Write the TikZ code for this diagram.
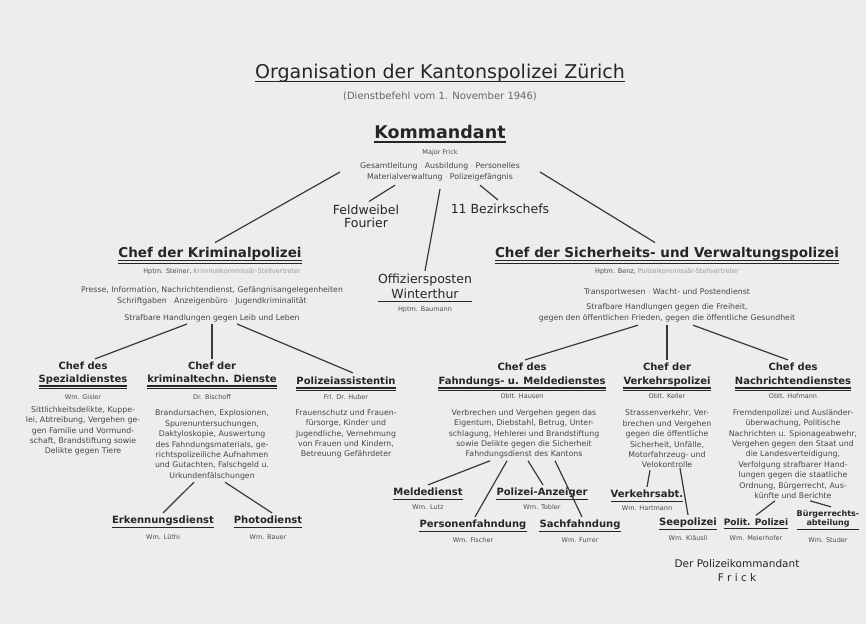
\documentclass[tikz,border=0pt]{standalone}
\usepackage{fontspec}
\setmainfont{DejaVu Sans}
\usetikzlibrary{positioning}
\definecolor{paper}{HTML}{EDEDED}
\definecolor{ink}{HTML}{262626}
\definecolor{pale}{HTML}{9A9A9A}

\begin{document}
\begin{tikzpicture}[
  x=1pt,y=-1pt,
  every node/.style={inner sep=0pt,text=ink},
  ttl/.style={font=\fontsize{19}{21}\selectfont,text depth=.22em},
  boss/.style={font=\fontsize{17.5}{20}\selectfont\bfseries,text depth=.22em},
  chief/.style={font=\fontsize{13.5}{15}\selectfont\bfseries,text depth=.22em},
  head/.style={font=\fontsize{10}{11.5}\selectfont\bfseries,text depth=.22em},
  unit/.style={font=\fontsize{12.5}{13}\selectfont,align=center},
  who/.style={font=\fontsize{6.5}{8}\selectfont,text=black!70},
  txt/.style={font=\fontsize{7.8}{10.4}\selectfont,align=center,text=black!72},
  wire/.style={draw=black!78,line width=1.2pt},
  ul/.style={draw=ink,line width=1.4pt},
  ulthin/.style={draw=ink,line width=.5pt}]

\fill[paper] (0,0) rectangle (866,624);
\useasboundingbox (0,0) rectangle (866,624);

% title
\node[ttl] (title) at (440,72) {Organisation der Kantonspolizei Zürich};
\node[who,font=\fontsize{10}{11}\selectfont,text=black!60] (date) at (440,96) {(Dienstbefehl vom 1. November 1946)};

% commander
\node[boss] (kdt) at (440,133) {Kommandant};
\node[who] (kdtname) at (440,153) {Major Frick};
\node[txt] (kdttxt) at (440,172) {Gesamtleitung $\cdot$ Ausbildung $\cdot$ Personelles\\Materialverwaltung $\cdot$ Polizeigefängnis};
\node[unit] (fw) at (366,216) {Feldweibel\\Fourier};
\node[unit] (bez) at (500,209) {11 Bezirkschefs};
\node[unit] (ofp) at (425,280) {Offiziersposten};
\node[unit] (winti) at (425,294) {Winterthur};
\node[who] (wintiname) at (425,310) {Hptm. Baumann};

% Kriminalpolizei
\node[chief] (kripo) at (210,253) {Chef der Kriminalpolizei};
\node[who] (kriponame) at (222,272) {Hptm. Steiner, \textcolor{pale}{Kriminalkommissär-Stellvertreter}};
\node[txt] (kriptxt) at (212,296) {Presse, Information, Nachrichtendienst, Gefängnisangelegenheiten\\Schriftgaben $\cdot$ Anzeigenbüro $\cdot$ Jugendkriminalität};
\node[txt] (kriptxt2) at (212,318) {Strafbare Handlungen gegen Leib und Leben};

\node[head] (spzA) at (83,367) {Chef des};
\node[head] (spz) at (83,380) {Spezialdienstes};
\node[who] (spzname) at (83,397) {Wm. Gisler};
\node[txt] (spztxt) at (83,431) {Sittlichkeitsdelikte, Kuppe-\\lei, Abtreibung, Vergehen ge-\\gen Familie und Vormund-\\schaft, Brandstiftung sowie\\Delikte gegen Tiere};

\node[head] (ktA) at (212,367) {Chef der};
\node[head] (kt) at (212,380) {kriminaltechn. Dienste};
\node[who] (ktname) at (212,397) {Dr. Bischoff};
\node[txt] (kttxt) at (212,445) {Brandursachen, Explosionen,\\Spurenuntersuchungen,\\Daktyloskopie, Auswertung\\des Fahndungsmaterials, ge-\\richtspolizeiliche Aufnahmen\\und Gutachten, Falschgeld u.\\Urkundenfälschungen};

\node[head] (pa) at (346,382) {Polizeiassistentin};
\node[who] (paname) at (346,397) {Frl. Dr. Huber};
\node[txt] (patxt) at (346,434) {Frauenschutz und Frauen-\\fürsorge, Kinder und\\Jugendliche, Vernehmung\\von Frauen und Kindern,\\Betreuung Gefährdeter};

\node[head] (ed) at (163,521) {Erkennungsdienst};
\node[who] (edname) at (163,537) {Wm. Lüthi};
\node[head] (ph) at (268,521) {Photodienst};
\node[who] (phname) at (268,537) {Wm. Bauer};

% Sicherheits- und Verwaltungspolizei
\node[chief] (sich) at (667,253) {Chef der Sicherheits- und Verwaltungspolizei};
\node[who] (sichname) at (667,272) {Hptm. Benz, \textcolor{pale}{Polizeikommissär-Stellvertreter}};
\node[txt] (sichtxt) at (667,292) {Transportwesen $\cdot$ Wacht- und Postendienst};
\node[txt] (sichtxt2) at (667,313) {Strafbare Handlungen gegen die Freiheit,\\gegen den öffentlichen Frieden, gegen die öffentliche Gesundheit};

\node[head] (fdA) at (522,368) {Chef des};
\node[head] (fd) at (522,382) {Fahndungs- u. Meldedienstes};
\node[who] (fdname) at (522,396) {Oblt. Hausen};
\node[txt] (fdtxt) at (524,434) {Verbrechen und Vergehen gegen das\\Eigentum, Diebstahl, Betrug, Unter-\\schlagung, Hehlerei und Brandstiftung\\sowie Delikte gegen die Sicherheit\\Fahndungsdienst des Kantons};

\node[head] (vkA) at (667,368) {Chef der};
\node[head] (vk) at (667,382) {Verkehrspolizei};
\node[who] (vkname) at (667,396) {Oblt. Keller};
\node[txt] (vktxt) at (667,439) {Strassenverkehr, Ver-\\brechen und Vergehen\\gegen die öffentliche\\Sicherheit, Unfälle,\\Motorfahrzeug- und\\Velokontrolle};

\node[head] (nrA) at (793,368) {Chef des};
\node[head] (nr) at (793,382) {Nachrichtendienstes};
\node[who] (nrname) at (793,396) {Oblt. Hofmann};
\node[txt] (nrtxt) at (793,454) {Fremdenpolizei und Ausländer-\\überwachung, Politische\\Nachrichten u. Spionageabwehr,\\Vergehen gegen den Staat und\\die Landesverteidigung,\\Verfolgung strafbarer Hand-\\lungen gegen die staatliche\\Ordnung, Bürgerrecht, Aus-\\künfte und Berichte};

\node[head] (md) at (428,493) {Meldedienst};
\node[who] (mdname) at (428,507) {Wm. Lutz};
\node[head] (pf) at (473,525) {Personenfahndung};
\node[who] (pfname) at (473,540) {Wm. Fischer};
\node[head] (pz) at (542,493) {Polizei-Anzeiger};
\node[who] (pzname) at (542,507) {Wm. Tobler};
\node[head] (sf) at (580,525) {Sachfahndung};
\node[who] (sfname) at (580,540) {Wm. Furrer};

\node[head] (va) at (647,495) {Verkehrsabt.};
\node[who] (vaname) at (647,508) {Wm. Hartmann};
\node[head] (sp) at (688,523) {Seepolizei};
\node[who] (spname) at (688,538) {Wm. Kläusli};

\node[head,font=\fontsize{9}{10.5}\selectfont\bfseries] (pp) at (756,523) {Polit. Polizei};
\node[who] (ppname) at (756,538) {Wm. Meierhofer};
\node[head,font=\fontsize{8}{9.5}\selectfont\bfseries,align=center] (br) at (828,519) {Bürgerrechts-\\abteilung};
\node[who] (brname) at (828,540) {Wm. Studer};

% signature
\node[font=\fontsize{10.5}{12}\selectfont] (sig) at (737,564) {Der Polizeikommandant};
\node[font=\fontsize{10.5}{12}\selectfont] (signame) at (737,578) {F r i c k};

% underlines
\foreach \n in {title,kdt} \draw[ul] ([yshift=-1]\n.south west) -- ([yshift=-1]\n.south east);
\foreach \n in {kripo,sich,spz,kt,pa,fd,vk,nr} {
  \draw[ul] ([yshift=-1]\n.south west) -- ([yshift=-1]\n.south east);
  \draw[ulthin] ([yshift=-3.5]\n.south west) -- ([yshift=-3.5]\n.south east);
}
\foreach \n in {ed,ph,md,pf,pz,sf,va,sp,pp,br}
  \draw[draw=ink,line width=.9pt] ([yshift=-1]\n.south west) -- ([yshift=-1]\n.south east);
\draw[ulthin] ([yshift=-2]ofp.west |- winti.south) -- ([yshift=-2]ofp.east |- winti.south);

% connectors from the commander
\draw[wire] ([xshift=-20]kdttxt.west) -- ([xshift=5,yshift=4]kripo.north);
\draw[wire] ([xshift=20]kdttxt.east) -- ([xshift=-12,yshift=4]sich.north);
\draw[wire] ([xshift=-45,yshift=-4]kdttxt.south) -- ([xshift=3,yshift=3]fw.north);
\draw[wire] ([xshift=40,yshift=-4]kdttxt.south) -- ([xshift=-2,yshift=4]bez.north);
\draw[wire] ([yshift=-8]kdttxt.south) -- ([yshift=3]ofp.north);

% Kriminalpolizei
\draw[wire] ([xshift=-25,yshift=-2]kriptxt2.south) -- ([xshift=12,yshift=3]spzA.north);
\draw[wire] ([yshift=-2]kriptxt2.south) -- ([yshift=3]ktA.north);
\draw[wire] ([xshift=25,yshift=-2]kriptxt2.south) -- ([xshift=7,yshift=4]pa.north);
\draw[wire] ([xshift=-18,yshift=-2]kttxt.south) -- ([yshift=3]ed.north);
\draw[wire] ([xshift=13,yshift=-2]kttxt.south) -- ([xshift=4,yshift=3]ph.north);

% Sicherheits- und Verwaltungspolizei
\draw[wire] ([xshift=-29,yshift=-3]sichtxt2.south) -- ([xshift=3,yshift=3]fdA.north);
\draw[wire] ([yshift=-3]sichtxt2.south) -- ([yshift=3]vkA.north);
\draw[wire] ([xshift=26,yshift=-3]sichtxt2.south) -- ([xshift=-5,yshift=3]nrA.north);
\draw[wire] ([xshift=-34,yshift=-2]fdtxt.south) -- ([yshift=3]md.north);
\draw[wire] ([xshift=-17,yshift=-2]fdtxt.south) -- ([xshift=2,yshift=3]pf.north);
\draw[wire] ([xshift=4,yshift=-2]fdtxt.south) -- ([xshift=1,yshift=3]pz.north);
\draw[wire] ([xshift=31,yshift=-2]fdtxt.south) -- ([xshift=2,yshift=3]sf.north);
\draw[wire] ([xshift=-17,yshift=-2]vktxt.south) -- ([yshift=3]va.north);
\draw[wire] ([xshift=13,yshift=0]vktxt.south) -- ([yshift=3]sp.north);
\draw[wire] ([xshift=-18,yshift=-2]nrtxt.south) -- ([yshift=3]pp.north);
\draw[wire] ([xshift=17,yshift=-2]nrtxt.south) -- ([xshift=3,yshift=3]br.north);
\end{tikzpicture}
\end{document}
